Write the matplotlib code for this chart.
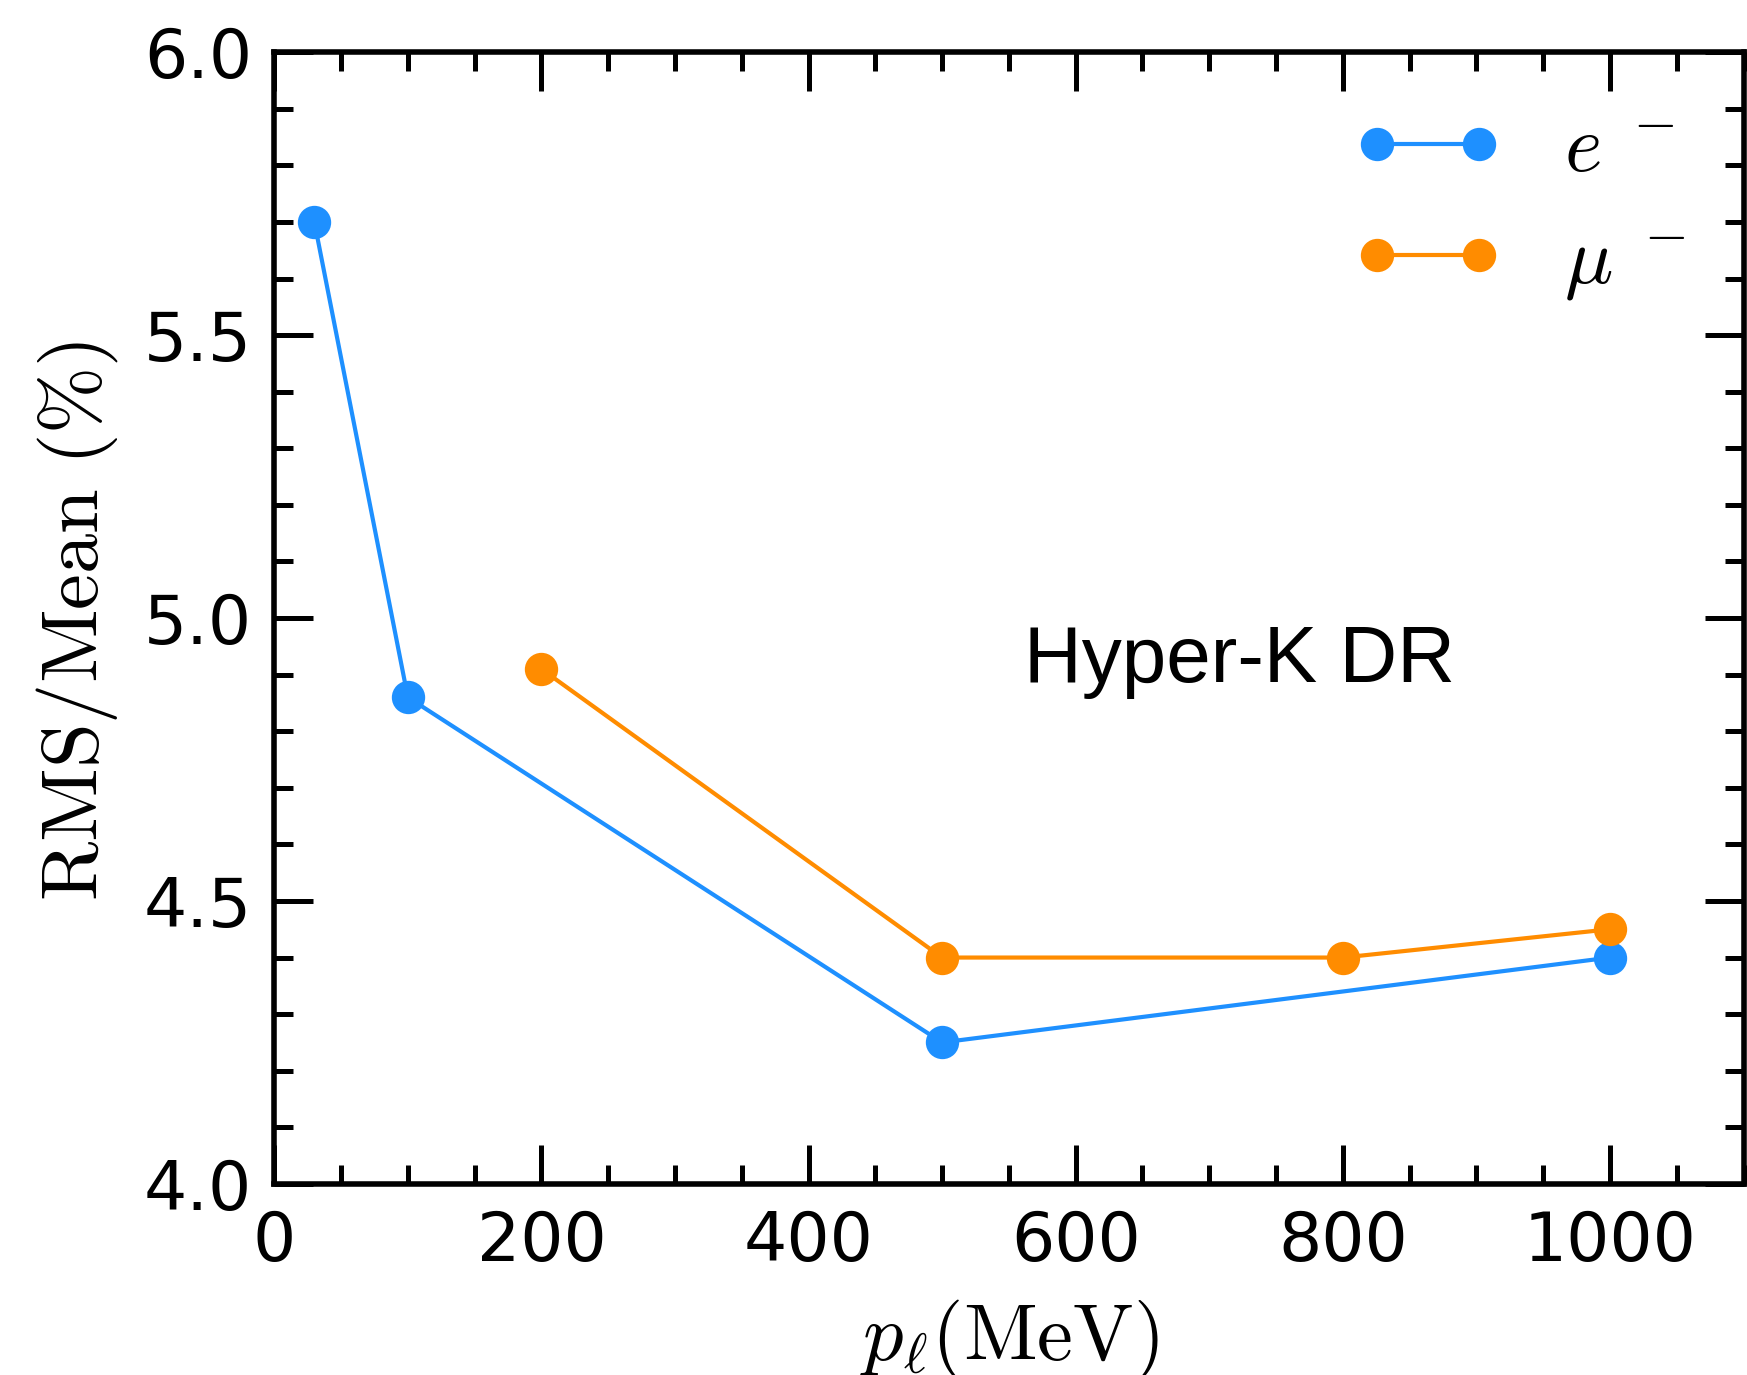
import matplotlib
matplotlib.use('Agg')
import matplotlib.pyplot as plt
from matplotlib.ticker import MultipleLocator

# momentum (MeV) and RMS/Mean (%)
e_p = [30, 100, 500, 1000]
e_rms = [5.70, 4.86, 4.25, 4.40]
mu_p = [200, 500, 800, 1000]
mu_rms = [4.91, 4.40, 4.40, 4.45]

plt.rcParams['mathtext.fontset'] = 'cm'

fig = plt.figure(figsize=(8.735, 6.875), dpi=200)
ax = fig.add_axes([0.157, 0.139, 0.841, 0.823])

ax.plot(e_p, e_rms, '-o', color='dodgerblue', lw=1.5, ms=11, label=r'$e^{\ -}$')
ax.plot(mu_p, mu_rms, '-o', color='darkorange', lw=1.5, ms=11, label=r'$\mu^{\ -}$')

ax.set_xlim(0, 1100)
ax.set_ylim(4.0, 6.0)
ax.xaxis.set_major_locator(MultipleLocator(200))
ax.xaxis.set_minor_locator(MultipleLocator(50))
ax.yaxis.set_major_locator(MultipleLocator(0.5))
ax.yaxis.set_minor_locator(MultipleLocator(0.1))
ax.yaxis.set_major_formatter(matplotlib.ticker.FormatStrFormatter('%.1f'))

ax.tick_params(which='both', direction='in', top=True, right=True, width=1.8, labelsize=24.5)
ax.tick_params(which='major', length=14)
ax.tick_params(which='minor', length=6.8)
ax.tick_params(axis='y', pad=8)
ax.tick_params(axis='x', pad=9)
for sp in ax.spines.values():
    sp.set_linewidth(2)

ax.set_xlabel(r'$p_{\ell} (\mathrm{MeV})$', fontsize=29, labelpad=8)
ax.set_ylabel(r'$\mathrm{RMS/Mean}\ (\%)$', fontsize=29)
ax.yaxis.set_label_coords(-0.105, 0.497)

ax.text(561, 4.887, 'Hyper-K DR', fontsize=28.8, family='Liberation Sans')

ax.legend(loc='upper right', frameon=False, fontsize=29, numpoints=2,
          handlelength=1.87, labelspacing=0.41, handletextpad=0.75,
          borderaxespad=0.33)

fig.savefig('out.png', dpi=200)
